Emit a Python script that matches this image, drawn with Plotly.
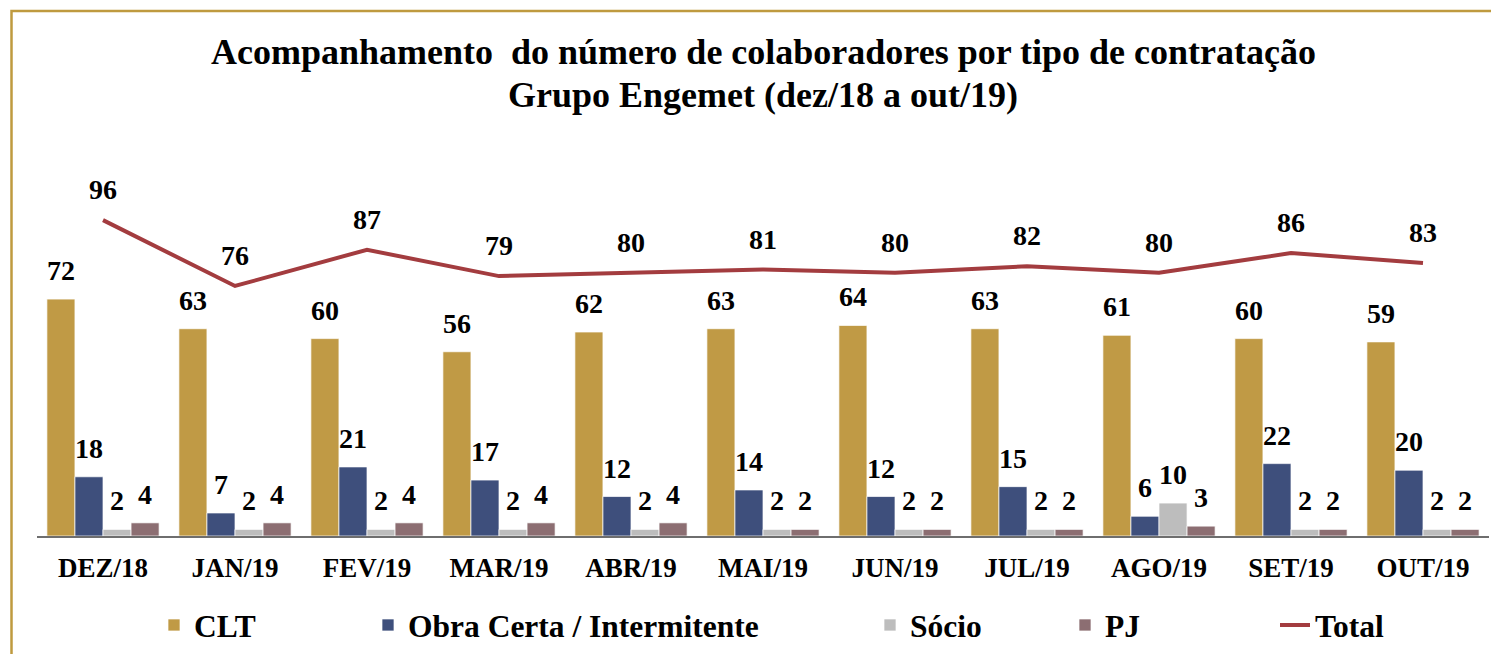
import plotly.graph_objects as go

months = ["DEZ/18", "JAN/19", "FEV/19", "MAR/19", "ABR/19", "MAI/19",
          "JUN/19", "JUL/19", "AGO/19", "SET/19", "OUT/19"]
clt = [72, 63, 60, 56, 62, 63, 64, 63, 61, 60, 59]
obra = [18, 7, 21, 17, 12, 14, 12, 15, 6, 22, 20]
socio = [2, 2, 2, 2, 2, 2, 2, 2, 10, 2, 2]
pj = [4, 4, 4, 4, 4, 2, 2, 2, 3, 2, 2]
total = [96, 76, 87, 79, 80, 81, 80, 82, 80, 86, 83]
title_lines = ["Acompanhamento  do número de colaboradores por tipo de contratação",
               "Grupo Engemet (dez/18 a out/19)"]

series = [
    ("CLT", clt, "#C09A45"),
    ("Obra Certa / Intermitente", obra, "#3E4F7C"),
    ("Sócio", socio, "#BDBDBD"),
    ("PJ", pj, "#8C6E72"),
]
line_color = "#A33C3F"
FONT = "Liberation Serif, Times New Roman, serif"

W, H = 1491, 654
ml, mr, mt, mb = 37, 2, 150, 118
plot_w = W - ml - mr
plot_h = H - mt - mb
bargap = 0.15
n = len(series)
bw = (1 - bargap) / n
idx = list(range(len(months)))

fig = go.Figure()
legend_text_x = [196, 410, 912, 1107, 1317]
leg_names = ["legend", "legend2", "legend3", "legend4", "legend5"]

for k, (name, vals, col) in enumerate(series):
    fig.add_trace(go.Bar(
        x=idx, y=vals, name=name,
        marker=dict(color=col, line=dict(color="rgba(255,255,255,0.7)", width=1)),
        legend=leg_names[k],
    ))
    off = (k - (n - 1) / 2) * bw
    for i, v in zip(idx, vals):
        fig.add_annotation(x=i + off, y=v, text=str(v), showarrow=False,
                           yanchor="bottom", yshift=11,
                           font=dict(family=FONT, size=28, color="black", weight="bold"))

fig.add_trace(go.Scatter(
    x=idx, y=total, name="Total", mode="lines",
    line=dict(color=line_color, width=4),
    legend=leg_names[4],
))
for i, v in zip(idx, total):
    fig.add_annotation(x=i, y=v, text=str(v), showarrow=False,
                       yanchor="bottom", yshift=13,
                       font=dict(family=FONT, size=28, color="black", weight="bold"))

# title lines
for txt, py in zip(title_lines, [52, 95]):
    fig.add_annotation(xref="paper", yref="paper", x=0.5, y=(H - mb - py) / plot_h,
                       xanchor="center", yanchor="middle", text=txt, showarrow=False,
                       font=dict(family=FONT, size=36, color="black", weight="bold"))

ymax = plot_h / 3.29
leg_y = (H - mb - 625) / plot_h
legend_layouts = {}
for name, tx in zip(leg_names, legend_text_x):
    legend_layouts[name] = dict(
        x=(tx - 42 - ml) / plot_w, xanchor="left",
        y=leg_y, yanchor="middle",
        orientation="h", bgcolor="rgba(0,0,0,0)",
        font=dict(family=FONT, size=31.5, color="black", weight="bold"),
    )

fig.update_layout(
    width=W, height=H,
    margin=dict(l=ml, r=mr, t=mt, b=mb, autoexpand=False),
    paper_bgcolor="white", plot_bgcolor="white",
    barmode="group", bargap=bargap, bargroupgap=0,
    xaxis=dict(
        tickmode="array", tickvals=idx, ticktext=months,
        range=[-0.5, len(months) - 0.5],
        showgrid=False, zeroline=False,
        showline=True, linecolor="#6E6E6E", linewidth=2,
        ticks="outside", ticklen=7, tickcolor="rgba(0,0,0,0)",
        tickfont=dict(family=FONT, size=27, color="black", weight="bold"),
    ),
    yaxis=dict(range=[0, ymax], visible=False),
    showlegend=True,
    **legend_layouts,
)

# golden frame (top and left edges visible, others run off the canvas)
fig.add_shape(type="rect", xref="paper", yref="paper",
              x0=(11.5 - ml) / plot_w, x1=1.05,
              y0=-0.5, y1=(H - mb - 11) / plot_h,
              line=dict(color="#BF9A3F", width=2.5), layer="below")

fig.write_html("out.html", config={"displayModeBar": False},
               post_script="document.body.style.margin='0';document.body.style.overflow='hidden';")
